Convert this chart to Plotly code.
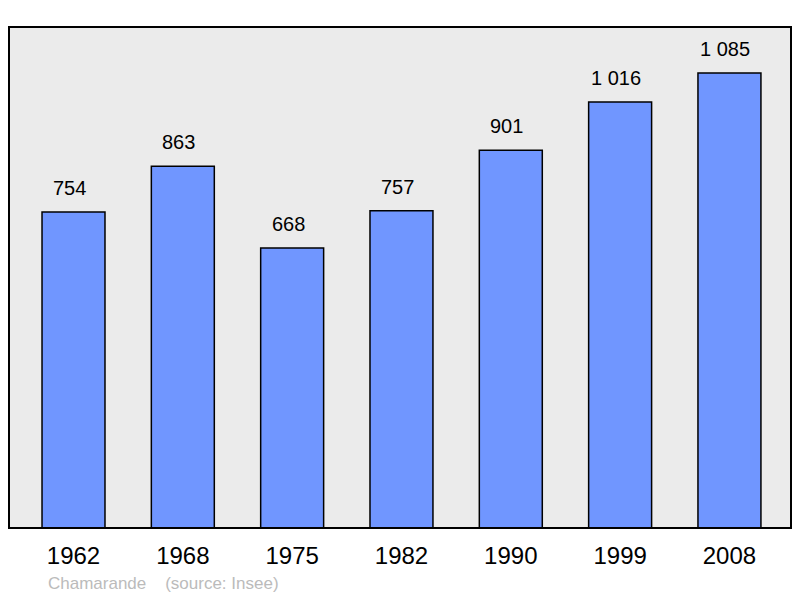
import plotly.graph_objects as go

years = ["1962", "1968", "1975", "1982", "1990", "1999", "2008"]
population = [754, 863, 668, 757, 901, 1016, 1085]
value_labels = ["754", "863", "668", "757", "901", "1 016", "1 085"]
place = "Chamarande"
source = "(source: Insee)"

fig = go.Figure()
fig.add_trace(go.Bar(
    x=list(range(len(years))), y=population,
    width=0.576,
    marker=dict(color="#7096ff", line=dict(color="black", width=1.5)),
    hoverinfo="skip",
))
for i, (v, lab) in enumerate(zip(population, value_labels)):
    fig.add_annotation(x=i, y=v, text=lab, showarrow=False, yanchor="middle", yshift=24,
                       xshift=-4,
                       font=dict(family="Liberation Sans, Arial", size=20, color="black"))

fig.add_annotation(xref="paper", yref="paper", x=(46 - 9) / 782, y=-(583 - 528) / 501,
                   xanchor="left", yanchor="middle",
                   text=place + "&nbsp;&nbsp;&nbsp;&nbsp;" + source, showarrow=False,
                   font=dict(family="Liberation Sans, Arial", size=17, color="#bbbbbb"))

fig.update_layout(
    width=800, height=598,
    margin=dict(l=9, r=9, t=27, b=70),
    paper_bgcolor="white", plot_bgcolor="#ebebeb",
    showlegend=False,
    xaxis=dict(tickmode="array", tickvals=list(range(len(years))), ticktext=years,
               range=[-0.59, 6.563], showgrid=False, zeroline=False, ticks="",
               ticklabelstandoff=11,
               tickfont=dict(family="Liberation Sans, Arial", size=24, color="black"),
               showline=False),
    yaxis=dict(range=[0, 1195], showgrid=False, zeroline=False, showticklabels=False,
               ticks="", showline=False),
    shapes=[dict(type="rect", xref="paper", yref="paper", x0=0, y0=0, x1=1, y1=1,
                 line=dict(color="black", width=2))],
)
fig.write_html("out.html", config={"displayModeBar": False},
               post_script="document.body.style.margin='0';")
